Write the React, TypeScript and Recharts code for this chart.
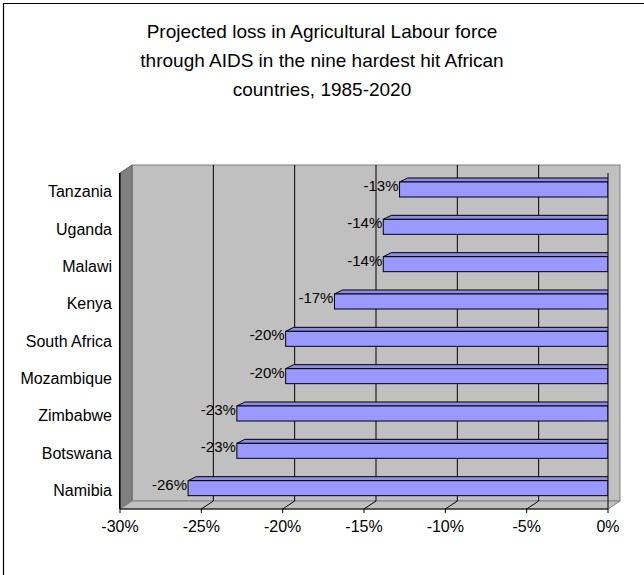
import React from "react";
import {
  Bar,
  BarChart,
  LabelList,
  ReferenceArea,
  ReferenceLine,
  XAxis,
  YAxis,
} from "recharts";

const countries = [
  "Tanzania",
  "Uganda",
  "Malawi",
  "Kenya",
  "South Africa",
  "Mozambique",
  "Zimbabwe",
  "Botswana",
  "Namibia",
];
const losses = [-13, -14, -14, -17, -20, -20, -23, -23, -26];
const valueTicks = [-30, -25, -20, -15, -10, -5, 0];
const gridTicks = [-25, -20, -15, -10, -5];
const edgeTicks = [0, 1, 2, 3, 4, 5, 6, 7, 8, 9];
const titleLines = [
  "Projected loss in Agricultural Labour force",
  "through AIDS in the nine hardest hit African",
  "countries, 1985-2020",
];

const data = countries.map((country, i) => ({ country, loss: losses[i] }));

// depth of the 3D walls
const DX = 12;
const DY = -8;
const FONT = "'Liberation Sans', Arial, sans-serif";

function Walls(props: any) {
  const { x, y, width, height } = props;
  const b = y + height;
  const r = x + width;
  return (
    <g>
      <rect
        x={x + DX}
        y={y + DY}
        width={width}
        height={height}
        fill="#c0c0c0"
        stroke="#808080"
      />
      <polygon
        points={`${x},${y} ${x + DX},${y + DY} ${x + DX},${b + DY} ${x},${b}`}
        fill="#808080"
        stroke="#606060"
      />
      <polygon
        points={`${x},${b} ${x + DX},${b + DY} ${r + DX},${b + DY} ${r},${b}`}
        fill="#c0c0c0"
        stroke="#808080"
      />
      <line x1={x - 0.5} y1={y} x2={x - 0.5} y2={b} stroke="#000" />
    </g>
  );
}

function GridLine(props: any) {
  const { x1, y1, y2 } = props;
  const top = Math.min(y1, y2);
  const bottom = Math.max(y1, y2);
  return (
    <g stroke="#000" strokeWidth={1}>
      <line x1={x1 + DX} y1={top + DY} x2={x1 + DX} y2={bottom + DY} />
      <line x1={x1} y1={bottom} x2={x1 + DX} y2={bottom + DY} />
    </g>
  );
}

function BoxBar(props: any) {
  const { x, y, width, height } = props;
  const left = Math.min(x, x + width) + 3;
  const right = Math.max(x, x + width);
  const top = y - 2;
  const bottom = top + height;
  const d = 8;
  const e = 4;
  return (
    <g stroke="#000" strokeWidth={1}>
      <polygon
        points={`${left},${top} ${left + d},${top - e} ${right + d},${top - e} ${right},${top}`}
        fill="#8c8cf0"
      />
      <polygon
        points={`${right},${top} ${right + d},${top - e} ${right + d},${bottom - e} ${right},${bottom}`}
        fill="#1c1c3c"
      />
      <rect x={left} y={top} width={right - left} height={height} fill="#9999ff" />
    </g>
  );
}

function BarLabel(props: any) {
  const { x, y, width, value } = props;
  const left = Math.min(x, x + width) + 3;
  return (
    <text
      x={left - 1}
      y={y + 3}
      textAnchor="end"
      dominantBaseline="middle"
      fontSize={15}
      fontFamily={FONT}
      fill="#000"
    >
      {`${value}%`}
    </text>
  );
}

export default function App() {
  return (
    <div
      style={{
        position: "absolute",
        left: 0,
        top: 0,
        width: 644,
        height: 575,
        overflow: "hidden",
        background: "#fff",
        fontFamily: FONT,
      }}
    >
      <div
        style={{
          position: "absolute",
          left: 0,
          top: 17,
          width: 644,
          textAlign: "center",
          fontSize: 19,
          lineHeight: "29px",
          color: "#000",
        }}
      >
        {titleLines.map((line) => (
          <div key={line}>{line}</div>
        ))}
      </div>
      <div style={{ position: "absolute", left: 0, top: 0 }}>
        <BarChart
          width={644}
          height={575}
          data={data}
          layout="vertical"
          margin={{ top: 173, right: 36, bottom: 36, left: 10 }}
        >
          <XAxis
            type="number"
            domain={[-30, 0]}
            ticks={valueTicks}
            tickFormatter={(v) => `${v}%`}
            height={30}
            tick={{ fontSize: 16, fill: "#000", fontFamily: FONT }}
            tickSize={4}
            tickMargin={8}
            stroke="#000"
            allowDataOverflow
          />
          <YAxis
            yAxisId="axis0"
            type="number"
            domain={[0, 9]}
            ticks={edgeTicks}
            tick={false}
            width={1}
            tickSize={4}
            stroke="#000"
          />
          <YAxis
            yAxisId="names"
            type="category"
            dataKey="country"
            width={109}
            tickLine={false}
            axisLine={false}
            tickSize={0}
            tickMargin={7}
            tick={{ fontSize: 16, fill: "#000", fontFamily: FONT }}
          />
          <YAxis
            yAxisId="zright"
            orientation="right"
            mirror
            type="number"
            domain={[0, 9]}
            ticks={edgeTicks}
            tick={false}
            width={1}
            tickSize={3}
            stroke="#000"
          />
          <ReferenceArea
            yAxisId="names"
            x1={-30}
            x2={0}
            shape={<Walls />}
            ifOverflow="visible"
            zIndex={-200}
          />
          {gridTicks.map((t) => (
            <ReferenceLine
              key={t}
              yAxisId="names"
              x={t}
              shape={<GridLine />}
              ifOverflow="visible"
              zIndex={-150}
            />
          ))}
          <Bar
            yAxisId="names"
            dataKey="loss"
            barSize={15}
            shape={<BoxBar />}
            isAnimationActive={false}
          >
            <LabelList dataKey="loss" content={<BarLabel />} />
          </Bar>
        </BarChart>
      </div>
      <svg
        width={644}
        height={575}
        style={{ position: "absolute", left: 0, top: 0, zIndex: 5, pointerEvents: "none" }}
      >
        <path d="M3.5,575 L3.5,3.5 L644,3.5" fill="none" stroke="#000" strokeWidth={1.2} />
      </svg>
    </div>
  );
}
